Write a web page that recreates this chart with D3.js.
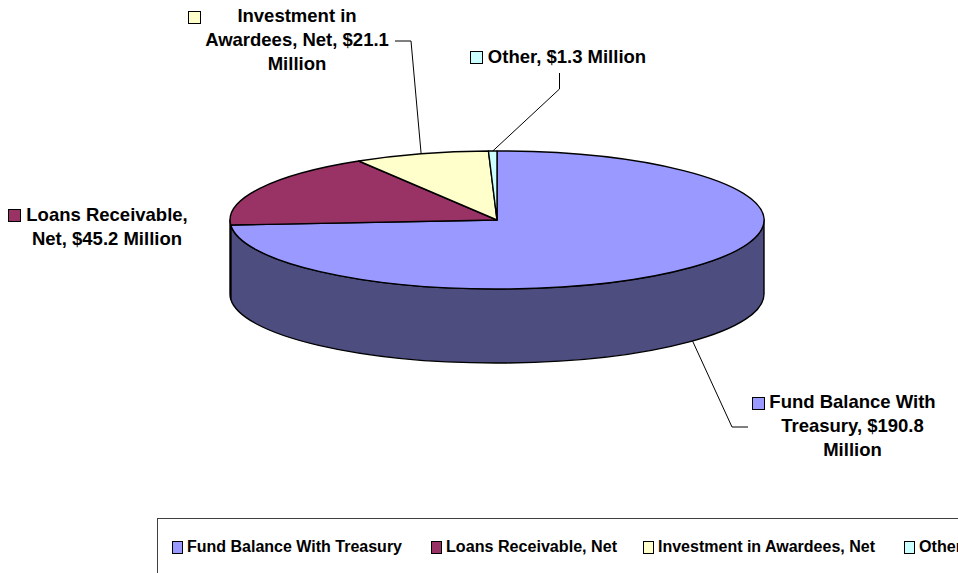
<!DOCTYPE html>
<html>
<head>
<meta charset="utf-8">
<script src="https://cdn.jsdelivr.net/npm/d3@7"></script>
<style>
  html, body { margin: 0; padding: 0; background: #fff; overflow: hidden; }
  svg { display: block; }
  text { font-family: "Liberation Sans", Arial, sans-serif; font-weight: bold; fill: #000; }
</style>
</head>
<body>
<svg width="958" height="573"></svg>
<script>
  // chart values, in $ millions
  var categories = ["Fund Balance With Treasury", "Loans Receivable, Net", "Investment in Awardees, Net", "Other"];
  var values = [190.8, 45.2, 21.1, 1.3];
  var topColors = ["#9999ff", "#993366", "#ffffcc", "#ccffff"];
  var sideColors = ["#4d4d80", "#4d1a33", "#808066", "#668080"];
  var labelLines = [
    ["Fund Balance With", "Treasury, $190.8", "Million"],
    ["Loans Receivable,", "Net, $45.2 Million"],
    ["Investment in", "Awardees, Net, $21.1", "Million"],
    ["Other, $1.3 Million"]
  ];

  var svg = d3.select("svg");

  // the pie is a flattened disc with a wall below it
  var cx = 497, cy = 220, rx = 267, ry = 69, depth = 74;

  var pie = d3.pie().sort(null).value(function (d) { return d; });
  var slices = pie(values);

  var arc = d3.arc().innerRadius(0).outerRadius(1);

  function px(a) { return cx + rx * Math.sin(a); }
  function py(a) { return cy - ry * Math.cos(a); }

  // wall: only the front half of the disc (90deg to 270deg) can be seen
  function wallPath(d) {
    var a0 = Math.max(d.startAngle, Math.PI / 2),
      a1 = Math.min(d.endAngle, Math.PI * 3 / 2);
    if (a1 <= a0) return null;
    return "M" + px(a0) + "," + py(a0) +
      "A" + rx + "," + ry + " 0 0 1 " + px(a1) + "," + py(a1) +
      "L" + px(a1) + "," + (py(a1) + depth) +
      "A" + rx + "," + ry + " 0 0 0 " + px(a0) + "," + (py(a0) + depth) + "Z";
  }

  svg.append("g")
    .selectAll("path")
    .data(slices)
    .enter().append("path")
    .attr("d", wallPath)
    .attr("fill", function (d) { return sideColors[d.index]; })
    .attr("stroke", "#000")
    .attr("stroke-width", 1.4)
    .attr("stroke-linejoin", "round");

  svg.append("g")
    .attr("transform", "translate(" + cx + "," + cy + ") scale(" + rx + "," + ry + ")")
    .selectAll("path")
    .data(slices)
    .enter().append("path")
    .attr("d", arc)
    .attr("fill", function (d) { return topColors[d.index]; })
    .attr("stroke", "#000")
    .attr("stroke-width", 1.4)
    .attr("stroke-linejoin", "round")
    .attr("vector-effect", "non-scaling-stroke");

  // leader lines start from the middle of each slice's rim
  function midAngle(i) { return (slices[i].startAngle + slices[i].endAngle) / 2; }

  var leaders = [
    { i: 0, wall: true, elbow: [[732, 427], [748, 427]] },
    { i: 2, wall: false, elbow: [[411, 41], [395, 41]] },
    { i: 3, wall: false, elbow: [[559.5, 89], [559.5, 73]] }
  ];

  svg.append("g")
    .selectAll("path")
    .data(leaders)
    .enter().append("path")
    .attr("d", function (d) {
      var a = midAngle(d.i);
      var start = [px(a), py(a) + (d.wall ? depth : 0)];
      return d3.line()([start].concat(d.elbow));
    })
    .attr("fill", "none")
    .attr("stroke", "#000")
    .attr("stroke-width", 1);

  // data labels: centre x, first baseline, swatch position
  var labelLayout = [
    { x: 852.5, y: 408, sx: 752.5, sy: 397.5 },
    { x: 107, y: 221, sx: 8.5, sy: 209.5 },
    { x: 297, y: 22, sx: 188.5, sy: 11.5 },
    { x: 567, y: 63, sx: 470.5, sy: 51.5 }
  ];

  var labelSize = 18.5, lineStep = 24;

  var labels = svg.append("g")
    .selectAll("g")
    .data(labelLines)
    .enter().append("g");

  labels.append("rect")
    .attr("x", function (d, i) { return labelLayout[i].sx; })
    .attr("y", function (d, i) { return labelLayout[i].sy; })
    .attr("width", 12)
    .attr("height", 12)
    .attr("fill", function (d, i) { return topColors[i]; })
    .attr("stroke", "#000")
    .attr("stroke-width", 1);

  labels.each(function (lines, i) {
    d3.select(this).selectAll("text")
      .data(lines)
      .enter().append("text")
      .attr("x", labelLayout[i].x)
      .attr("y", function (d, j) { return labelLayout[i].y + j * lineStep; })
      .attr("text-anchor", "middle")
      .style("font-size", labelSize + "px")
      .text(function (d) { return d; });
  });

  // Legend, runs off the right and bottom of the picture
  svg.append("rect")
    .attr("x", 157.5)
    .attr("y", 518.5)
    .attr("width", 900)
    .attr("height", 100)
    .attr("fill", "#fff")
    .attr("stroke", "#404040")
    .attr("stroke-width", 1);

  var legendX = [172, 431, 643, 904];
  var legendWidth = [215, 171, 217, 43];

  var legend = svg.append("g")
    .selectAll("g")
    .data(categories)
    .enter().append("g")
    .attr("transform", function (d, i) { return "translate(" + legendX[i] + ",0)"; });

  legend.append("rect")
    .attr("x", 0.5)
    .attr("y", 541.5)
    .attr("width", 10)
    .attr("height", 12)
    .attr("fill", function (d, i) { return topColors[i]; })
    .attr("stroke", "#000")
    .attr("stroke-width", 1);

  legend.append("text")
    .attr("x", 15)
    .attr("y", 552)
    .attr("textLength", function (d, i) { return legendWidth[i]; })
    .attr("lengthAdjust", "spacingAndGlyphs")
    .style("font-size", "16px")
    .text(function (d) { return d; });
</script>
</body>
</html>
